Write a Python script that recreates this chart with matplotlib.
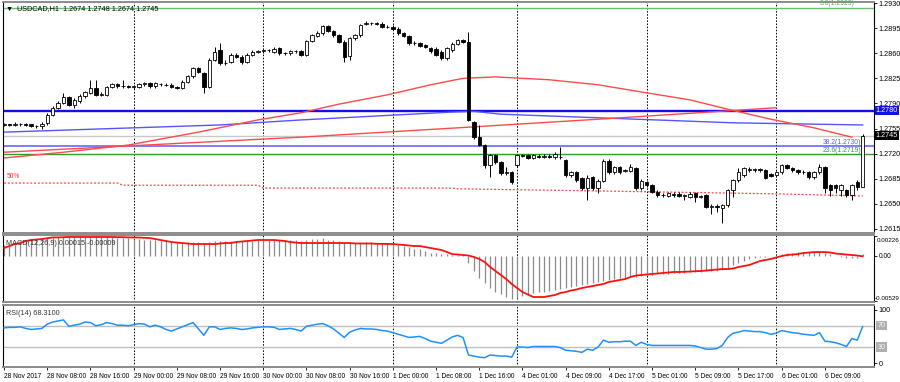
import numpy as np
import matplotlib.pyplot as plt

plt.rcParams['font.family'] = ['Liberation Sans', 'DejaVu Sans']

# ---- USDCAD H1 candles (bar 0 = 28 Nov 2017 00:00) ----
opens = [
    1.2760, 1.2761, 1.2760, 1.2762, 1.2761, 1.2761, 1.2758, 1.2759, 1.2763, 1.2774,
    1.2784, 1.2791, 1.2799, 1.2788, 1.2793, 1.2800, 1.2805, 1.2812, 1.2802, 1.2802,
    1.2813, 1.2817, 1.2814, 1.2814, 1.2813, 1.2813, 1.2817, 1.2818, 1.2814, 1.2817,
    1.2816, 1.2816, 1.2813, 1.2812, 1.2820, 1.2828, 1.2839, 1.2832, 1.2813, 1.2851,
    1.2864, 1.2846, 1.2848, 1.2858, 1.2855, 1.2848, 1.2858, 1.2862, 1.2863, 1.2864,
    1.2862, 1.2867, 1.2860, 1.2860, 1.2863, 1.2863, 1.2858, 1.2877, 1.2884, 1.2888,
    1.2898, 1.2891, 1.2885, 1.2876, 1.2856, 1.2881, 1.2885, 1.2901, 1.2902, 1.2902,
    1.2901, 1.2897, 1.2897, 1.2894, 1.2888, 1.2884, 1.2874, 1.2874, 1.2871, 1.2867,
    1.2866, 1.2862, 1.2853, 1.2864, 1.2873, 1.2878, 1.2876, 1.2764, 1.2743, 1.2732,
    1.2704, 1.2718, 1.2708, 1.2693, 1.2694, 1.2704, 1.2718, 1.2718, 1.2714, 1.2717,
    1.2716, 1.2717, 1.2715, 1.2716, 1.2711, 1.2690, 1.2694, 1.2686, 1.2672, 1.2687,
    1.2672, 1.2682, 1.2710, 1.2694, 1.2701, 1.2696, 1.2696, 1.2700, 1.2672, 1.2680,
    1.2676, 1.2667, 1.2662, 1.2661, 1.2664, 1.2664, 1.2661, 1.2660, 1.2665, 1.2660,
    1.2662, 1.2646, 1.2647, 1.2644, 1.2648, 1.2669, 1.2683, 1.2690, 1.2697, 1.2697,
    1.2698, 1.2697, 1.2691, 1.2690, 1.2694, 1.2704, 1.2700, 1.2697, 1.2694, 1.2694,
    1.2687, 1.2694, 1.2701, 1.2676, 1.2676, 1.2669, 1.2669, 1.2662, 1.2680, 1.2674]
closes = [
    1.2761, 1.2760, 1.2762, 1.2761, 1.2760, 1.2758, 1.2758, 1.2762, 1.2774, 1.2784,
    1.2791, 1.2799, 1.2788, 1.2795, 1.2800, 1.2806, 1.2812, 1.2802, 1.2803, 1.2813,
    1.2817, 1.2814, 1.2815, 1.2813, 1.2814, 1.2817, 1.2818, 1.2814, 1.2818, 1.2817,
    1.2816, 1.2813, 1.2812, 1.2820, 1.2828, 1.2839, 1.2834, 1.2813, 1.2851, 1.2862,
    1.2846, 1.2847, 1.2858, 1.2855, 1.2848, 1.2858, 1.2862, 1.2863, 1.2864, 1.2864,
    1.2866, 1.2860, 1.2860, 1.2863, 1.2863, 1.2858, 1.2877, 1.2885, 1.2888, 1.2898,
    1.2891, 1.2885, 1.2876, 1.2855, 1.2881, 1.2885, 1.2899, 1.2902, 1.2902, 1.2901,
    1.2897, 1.2897, 1.2894, 1.2888, 1.2884, 1.2874, 1.2874, 1.2870, 1.2869, 1.2863,
    1.2858, 1.2853, 1.2867, 1.2873, 1.2878, 1.2876, 1.2767, 1.2743, 1.2732, 1.2704,
    1.2718, 1.2708, 1.2693, 1.2694, 1.2680, 1.2718, 1.2717, 1.2714, 1.2718, 1.2716,
    1.2717, 1.2716, 1.2720, 1.2715, 1.2690, 1.2694, 1.2683, 1.2672, 1.2686, 1.2672,
    1.2682, 1.2710, 1.2694, 1.2701, 1.2694, 1.2697, 1.2701, 1.2672, 1.2682, 1.2676,
    1.2667, 1.2662, 1.2663, 1.2665, 1.2662, 1.2661, 1.2662, 1.2664, 1.2660, 1.2661,
    1.2646, 1.2647, 1.2646, 1.2648, 1.2669, 1.2683, 1.2694, 1.2700, 1.2698, 1.2698,
    1.2697, 1.2686, 1.2689, 1.2694, 1.2704, 1.2700, 1.2697, 1.2694, 1.2695, 1.2687,
    1.2694, 1.2701, 1.2672, 1.2669, 1.2672, 1.2676, 1.2662, 1.2676, 1.2674, 1.2745]
highs = [
    1.2763, 1.2762, 1.2764, 1.2763, 1.2763, 1.2762, 1.2760, 1.2764, 1.2776, 1.2786,
    1.2794, 1.2805, 1.2801, 1.2797, 1.2803, 1.2808, 1.2823, 1.2823, 1.2806, 1.2815,
    1.2819, 1.2819, 1.2823, 1.2816, 1.2816, 1.2819, 1.2820, 1.2820, 1.2820, 1.2819,
    1.2818, 1.2818, 1.2815, 1.2822, 1.2830, 1.2841, 1.2841, 1.2834, 1.2853, 1.2868,
    1.2874, 1.2850, 1.2860, 1.2861, 1.2857, 1.2860, 1.2864, 1.2865, 1.2866, 1.2866,
    1.2869, 1.2869, 1.2862, 1.2865, 1.2865, 1.2865, 1.2879, 1.2887, 1.2891, 1.2900,
    1.2900, 1.2893, 1.2887, 1.2878, 1.2883, 1.2887, 1.2901, 1.2905, 1.2904, 1.2903,
    1.2903, 1.2899, 1.2899, 1.2896, 1.2890, 1.2886, 1.2877, 1.2876, 1.2873, 1.2869,
    1.2868, 1.2864, 1.2869, 1.2875, 1.2880, 1.2880, 1.2890, 1.2766, 1.2760, 1.2734,
    1.2720, 1.2720, 1.2710, 1.2702, 1.2696, 1.2720, 1.2720, 1.2720, 1.2720, 1.2719,
    1.2719, 1.2719, 1.2722, 1.2729, 1.2713, 1.2696, 1.2696, 1.2688, 1.2690, 1.2689,
    1.2684, 1.2712, 1.2712, 1.2703, 1.2703, 1.2699, 1.2705, 1.2702, 1.2684, 1.2682,
    1.2678, 1.2669, 1.2665, 1.2667, 1.2666, 1.2666, 1.2664, 1.2666, 1.2667, 1.2663,
    1.2664, 1.2650, 1.2650, 1.2650, 1.2671, 1.2685, 1.2700, 1.2702, 1.2702, 1.2700,
    1.2700, 1.2699, 1.2693, 1.2696, 1.2706, 1.2706, 1.2702, 1.2699, 1.2697, 1.2696,
    1.2696, 1.2706, 1.2703, 1.2678, 1.2678, 1.2678, 1.2671, 1.2678, 1.2683, 1.2748]
lows = [
    1.2758, 1.2758, 1.2759, 1.2759, 1.2758, 1.2757, 1.2756, 1.2755, 1.2760, 1.2772,
    1.2782, 1.2789, 1.2786, 1.2784, 1.2791, 1.2798, 1.2803, 1.2800, 1.2800, 1.2800,
    1.2811, 1.2812, 1.2812, 1.2811, 1.2810, 1.2811, 1.2815, 1.2812, 1.2812, 1.2815,
    1.2814, 1.2811, 1.2810, 1.2810, 1.2818, 1.2826, 1.2832, 1.2805, 1.2811, 1.2849,
    1.2844, 1.2843, 1.2846, 1.2853, 1.2845, 1.2846, 1.2856, 1.2860, 1.2861, 1.2862,
    1.2860, 1.2858, 1.2858, 1.2858, 1.2861, 1.2856, 1.2856, 1.2875, 1.2882, 1.2886,
    1.2889, 1.2883, 1.2874, 1.2848, 1.2850, 1.2879, 1.2883, 1.2899, 1.2900, 1.2899,
    1.2895, 1.2895, 1.2892, 1.2886, 1.2882, 1.2872, 1.2872, 1.2868, 1.2867, 1.2861,
    1.2856, 1.2851, 1.2851, 1.2862, 1.2871, 1.2874, 1.2765, 1.2741, 1.2730, 1.2700,
    1.2687, 1.2706, 1.2690, 1.2690, 1.2678, 1.2702, 1.2715, 1.2712, 1.2712, 1.2714,
    1.2714, 1.2714, 1.2713, 1.2713, 1.2688, 1.2688, 1.2681, 1.2670, 1.2655, 1.2670,
    1.2665, 1.2680, 1.2692, 1.2692, 1.2692, 1.2694, 1.2694, 1.2670, 1.2670, 1.2674,
    1.2665, 1.2660, 1.2660, 1.2659, 1.2660, 1.2659, 1.2655, 1.2658, 1.2652, 1.2658,
    1.2644, 1.2636, 1.2638, 1.2623, 1.2646, 1.2660, 1.2681, 1.2688, 1.2695, 1.2695,
    1.2695, 1.2684, 1.2687, 1.2688, 1.2692, 1.2698, 1.2695, 1.2692, 1.2692, 1.2685,
    1.2685, 1.2692, 1.2665, 1.2661, 1.2665, 1.2661, 1.2660, 1.2655, 1.2670, 1.2674]

# ---- overlay lines on the price panel (bar index, price) ----
red_curve_bars = [0, 11, 23, 36, 47, 55, 62, 71, 79, 85, 91, 101, 110, 118, 127, 134, 142, 150, 157]
red_curve_vals = [1.2714, 1.2722, 1.2732, 1.2750, 1.2767, 1.2777, 1.2789, 1.2802, 1.2816, 1.2825,
                  1.2827, 1.2823, 1.2816, 1.2806, 1.2795, 1.2782, 1.2768, 1.2756, 1.2743]
red_trend_bars = [0, 55, 84, 110, 143]
red_trend_vals = [1.2722, 1.2743, 1.2756, 1.2768, 1.2784]
blue_curve_bars = [0, 40, 55, 83, 87, 92, 110, 135, 159]
blue_curve_vals = [1.2750, 1.2760, 1.2767, 1.2778, 1.2779, 1.2775, 1.2770, 1.2763, 1.2760]
dot_bars = [0, 21, 22, 47, 48, 83, 84, 110, 143, 159]
dot_vals = [1.2679, 1.2679, 1.2676, 1.2676, 1.2672, 1.2672, 1.2671, 1.2668, 1.2664, 1.2661]
level_blue = 1.2780
bid_price = 1.2745
fib_levels = {'0.0': 1.2923, '38.2': 1.2730, '23.6': 1.2719}

# ---- MACD(12,26,9), units of 1e-4 ----
macd_main = [
    12, 13.5, 15, 16.5, 18, 19, 19.5, 20, 20.5, 20.5,
    21, 21.5, 21, 21, 21, 21.5, 21.5, 21, 21, 21,
    21, 20.5, 20, 20, 19.5, 19, 18.5, 18, 17.5, 17,
    16.5, 16, 15.5, 15.5, 15.5, 16, 16, 15, 16, 17,
    17, 17, 17, 17, 16.5, 16.5, 17, 17.5, 18, 18.5,
    18.5, 18, 18, 18, 17.5, 17, 18, 19, 19.5, 20,
    18, 17.5, 16.5, 15, 15, 15, 15, 15.5, 15.5, 15,
    15, 14, 13, 12, 11, 9.5, 8, 7, 5.5, 3.5,
    2.5, 1.8, 1.2, 0.8, 0.5, 0.3, -8.7, -18, -26, -32,
    -38, -42, -45, -48, -51, -49, -47, -45, -43.5, -42,
    -42, -41, -40, -39, -38, -37, -35, -34, -33, -32,
    -31, -30, -28, -27, -26, -26, -25, -25, -24, -23,
    -23, -21, -21, -21, -20, -20, -20, -19, -19, -19,
    -18, -18, -18, -17, -14.5, -11, -8.7, -6.4, -4, -3,
    -1.7, -1.7, -0.6, 0.6, 1.7, 2.9, 2.9, 4, 4, 4,
    4, 4, 2.9, 1.7, -0.6, -1.7, -2.9, -2.9, -2.9, 1.5]
macd_signal = [
    8.7, 11, 13.3, 14.5, 16.8, 18, 18.6, 19.1, 20, 21,
    21, 21.3, 21.5, 21.5, 21.5, 21.5, 21.5, 21.5, 21.5, 21.5,
    21.5, 21.3, 21.3, 21, 21, 20.9, 20.5, 20.3, 19.1, 18,
    16.8, 15.7, 15, 14.5, 13.9, 13.3, 13.3, 13.3, 13.3, 13.3,
    13.9, 14.5, 14.5, 15.7, 16.2, 16.8, 17.4, 18, 18, 18,
    18, 17.4, 16.8, 15.7, 15, 14.5, 14.5, 14.5, 14.5, 14.5,
    14.5, 14.5, 14.5, 14.5, 14.5, 14, 14, 14, 13.9, 13.6,
    13.5, 13.4, 13.3, 12.8, 12.2, 11.6, 11, 11, 9.9, 8.7,
    7.5, 6.4, 4, 1.7, 1.2, 0.6, 0, -1.7, -4, -7.5,
    -13.3, -18, -22.6, -27.3, -33, -37.7, -42.3, -45.2, -48.1, -48.1,
    -48.1, -47, -45.8, -43.5, -42.3, -40.6, -39.4, -37.7, -36.5, -35.4,
    -34.2, -33, -30.7, -29.6, -28.4, -27.3, -24.9, -23.2, -22.6, -22,
    -21.5, -20.9, -20.3, -19.7, -19.1, -19.1, -18.9, -18.6, -18.2, -18,
    -17.4, -16.8, -16.2, -15.7, -15.7, -15.1, -13.3, -12.2, -11, -8.7,
    -6.4, -5.2, -4, -2.3, -0.6, 0.6, 1.2, 1.7, 2.9, 3.5,
    4, 4, 4, 3.5, 2.3, 1.7, 1.2, 0.6, 0, -0.9]

# ---- RSI(14) ----
rsi = [
    66, 67, 67, 68, 65, 63, 64, 65, 73, 77,
    79, 81, 69, 71, 73, 77, 76, 70, 72, 76,
    74, 71, 71, 70, 72, 74, 73, 68, 71, 68,
    63, 60, 64, 68, 72, 76, 64, 52, 68, 68,
    63, 65, 66, 65, 63, 64, 66, 67, 68, 68,
    67, 63, 64, 65, 63, 60, 69, 71, 73, 74,
    70, 64, 56, 48, 58, 62, 65, 64, 64, 63,
    61, 60, 57, 54, 51, 48, 49, 50, 46, 41,
    39, 37, 43, 49, 52, 48, 15, 13, 11, 10,
    15, 14, 13, 13, 11, 30, 30, 29, 31, 31,
    31, 31, 31, 29, 24, 23, 22, 20, 26, 24,
    30, 43, 39, 40, 40, 41, 41, 33, 39, 35,
    33, 33, 33, 33, 33, 33, 33, 33, 32, 29,
    26, 26, 27, 33, 48, 56, 58, 61, 60, 59,
    59, 57, 54, 56, 61, 59, 57, 56, 54, 53,
    52, 57, 41, 40, 38, 35, 31, 46, 43, 68.31]

time_labels = ['28 Nov 2017', '28 Nov 08:00', '28 Nov 16:00', '29 Nov 00:00', '29 Nov 08:00',
               '29 Nov 16:00', '30 Nov 00:00', '30 Nov 08:00', '30 Nov 16:00', '1 Dec 00:00',
               '1 Dec 08:00', '1 Dec 16:00', '4 Dec 01:00', '4 Dec 09:00', '4 Dec 17:00',
               '5 Dec 01:00', '5 Dec 09:00', '5 Dec 17:00', '6 Dec 01:00', '6 Dec 09:00']
day_bars = [24, 48, 72, 95, 119, 143]

opens = np.array(opens)
closes = np.array(closes)
highs = np.array(highs)
lows = np.array(lows)
bars = np.arange(len(closes))

FS = 5.2
W, H = 900, 382
fig = plt.figure(figsize=(9, 3.82), dpi=100)
fig.patch.set_facecolor('white')


def panel(top, bottom):
    return fig.add_axes([3 / W, 1 - bottom / H, 871 / W, (bottom - top) / H])


ax1 = panel(2, 233)
ax2 = panel(235, 302)
ax3 = panel(305, 367)

xlim = (-0.2, 161.1)
dotted = (0, (1.6, 1.6))
for ax in (ax1, ax2, ax3):
    ax.set_xlim(*xlim)
    ax.set_facecolor('white')
    for d in day_bars:
        ax.axvline(d, color='black', lw=0.7, ls=dotted, zorder=1)
    ax.yaxis.tick_right()
    ax.tick_params(axis='y', labelsize=FS, length=2, width=0.6, pad=1.5, colors='black')
    for s in ('top', 'bottom'):
        ax.spines[s].set_color('#8c8c8c')
        ax.spines[s].set_linewidth(1.4)
    ax.spines['left'].set_color('black')
    ax.spines['left'].set_linewidth(0.8)
    ax.spines['right'].set_color('black')
    ax.spines['right'].set_linewidth(0.8)
ax1.set_xticks([])
ax2.set_xticks([])

# ---- price panel ----
ax1.set_ylim(1.26094, 1.29314)
ax1.set_yticks([1.2615 + 0.0035 * k for k in range(10)])
ax1.yaxis.set_major_formatter(plt.FormatStrFormatter('%.4f'))

ax1.axhline(fib_levels['0.0'], color='#6cbf6c', lw=1.0, zorder=2)
ax1.axhline(bid_price, color='#c8c8c8', lw=1.0, zorder=2)
ax1.axhline(fib_levels['38.2'], color='#5a5aff', lw=1.1, zorder=2)
ax1.axhline(fib_levels['23.6'], color='#2e9b2e', lw=1.0, zorder=2)
ax1.axhline(level_blue, color='#1010ee', lw=1.7, zorder=2)
ax1.plot(dot_bars, dot_vals, color='#ff4040', lw=0.9, ls=(0, (1.5, 1.5)), zorder=2)
ax1.plot(blue_curve_bars, blue_curve_vals, color='#5555ff', lw=1.0, zorder=2)
ax1.plot(red_trend_bars, red_trend_vals, color='#ff4a4a', lw=1.0, zorder=2)
ax1.plot(red_curve_bars, red_curve_vals, color='#ff4a4a', lw=1.0, zorder=2)

up = closes >= opens
ax1.vlines(bars, lows, highs, color='black', lw=0.7, zorder=3)
body_lo = np.minimum(opens, closes)
body_h = np.maximum(np.abs(closes - opens), 0.00002)
ax1.bar(bars[up], body_h[up], bottom=body_lo[up], width=0.62, color='white',
        edgecolor='black', linewidth=0.6, zorder=4)
ax1.bar(bars[~up], body_h[~up], bottom=body_lo[~up], width=0.62, color='black',
        edgecolor='black', linewidth=0.6, zorder=4)

ax1.text(0.004, 0.985, '\u25BC  USDCAD,H1  1.2674 1.2748 1.2674 1.2745', transform=ax1.transAxes,
         fontsize=FS, va='top', ha='left', color='black')
ax1.text(0.5, 1.2688, '50%', color='#ff3030', fontsize=FS - 0.4, va='center', ha='left')
ax1.text(157.5, fib_levels['0.0'] + 0.0001, '0.0(1.2923)', color='#5aaa5a', fontsize=FS - 0.3,
         ha='right', va='bottom')
ax1.text(158.7, fib_levels['38.2'] + 0.00005, '38.2(1.2730)', color='#5a5aff', fontsize=FS - 0.3,
         ha='right', va='bottom', zorder=3)
ax1.text(158.7, fib_levels['23.6'] + 0.00005, '23.6(1.2719)', color='#2e9b2e', fontsize=FS - 0.3,
         ha='right', va='bottom', zorder=3)

ytrans = ax1.get_yaxis_transform()
ax1.text(1.002, level_blue, '1.2780', transform=ytrans, fontsize=FS, color='white', va='center',
         ha='left', clip_on=False, bbox=dict(boxstyle='square,pad=0.15', fc='#1010ee', ec='none'))
ax1.text(1.002, bid_price, '1.2745', transform=ytrans, fontsize=FS, color='white', va='center',
         ha='left', clip_on=False, bbox=dict(boxstyle='square,pad=0.15', fc='black', ec='none'))

# ---- MACD panel ----
main = np.array(macd_main) * 1e-4
sig = np.array(macd_signal) * 1e-4
ax2.set_ylim(-0.00539, 0.00238)
ax2.vlines(bars, 0, main, color='#8a8a8a', lw=0.9, zorder=2)
ax2.plot(bars, sig, color='#ff1010', lw=1.3, zorder=3)
ax2.set_yticks([0.00226, 0.0, -0.00529])
ax2.set_yticklabels(['', '0.00', ''])
ax2.tick_params(axis='y', labelsize=4.8, pad=1.5)
ax2.text(899.5 / W, 1 - 240 / H, '0.00226', transform=fig.transFigure, fontsize=4.5,
         ha='right', va='center')
ax2.text(899.5 / W, 1 - 298 / H, '-0.00529', transform=fig.transFigure, fontsize=4.5,
         ha='right', va='center')
ax2.text(0.004, 0.93, 'MACD(12,26,9) 0.00015 -0.00009', transform=ax2.transAxes, fontsize=FS,
         va='top', ha='left', color='#333333')

# ---- RSI panel ----
ax3.set_ylim(-7.5, 109)
ax3.axhline(70, color='#c0c0c0', lw=1.0, zorder=1)
ax3.axhline(30, color='#c0c0c0', lw=1.0, zorder=1)
ax3.plot(bars, rsi, color='#1e90ff', lw=1.1, zorder=3)
ax3.set_yticks([100, 0])
ax3.set_yticklabels(['100', '0'])
for lv in (70, 30):
    ax3.text(1.004, lv, str(lv), transform=ax3.get_yaxis_transform(), fontsize=FS, color='#f5f5f5',
             va='center', ha='left', clip_on=False,
             bbox=dict(boxstyle='square,pad=0.15', fc='#b0b0b0', ec='none'))
ax3.text(0.004, 0.92, 'RSI(14) 68.3100', transform=ax3.transAxes, fontsize=FS,
         va='top', ha='left', color='#333333')

ax3.set_xticks(bars[::8])
ax3.set_xticklabels(time_labels, fontsize=4.75)
ax3.tick_params(axis='x', length=2.5, width=0.6, pad=2)
for lab in ax3.get_xticklabels():
    lab.set_horizontalalignment('left')

fig.savefig('out.png', dpi=100)
